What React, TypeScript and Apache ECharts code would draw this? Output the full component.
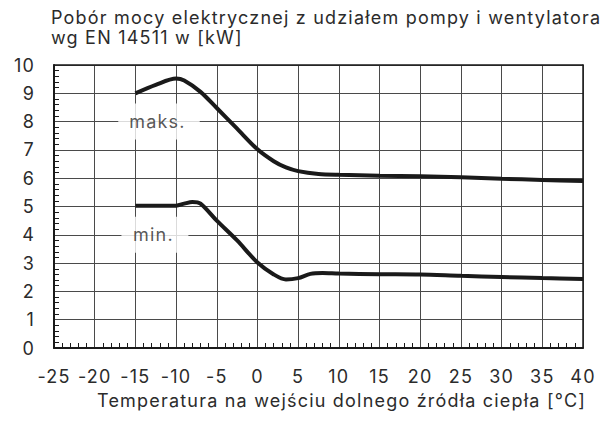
import React, { useEffect, useRef } from "react";
import * as echarts from "echarts";

const titleLines = [
  "Pobór mocy elektrycznej z udziałem pompy i wentylatora",
  "wg EN 14511 w [kW]",
];
const xAxisTitle = "Temperatura na wejściu dolnego źródła ciepła [°C]";

const xTicks = [-25, -20, -15, -10, -5, 0, 5, 10, 15, 20, 25, 30, 35, 40];
const yTicks = [0, 1, 2, 3, 4, 5, 6, 7, 8, 9, 10];

const maksTemps = [-15, -12.5, -10, -9, -7, -5, -2.5, 0, 2, 3.5, 5, 7.5, 10, 15, 20, 25, 30, 35, 40];
const maksValues = [9.0, 9.3, 9.52, 9.45, 9.05, 8.48, 7.75, 7.02, 6.6, 6.38, 6.25, 6.15, 6.12, 6.09, 6.07, 6.03, 5.98, 5.94, 5.9];

const minTemps = [-15, -10, -9, -8, -7, -5, -2.5, 0, 2, 3.5, 5, 6.5, 8, 10, 15, 20, 25, 30, 35, 40];
const minValues = [5.03, 5.03, 5.1, 5.16, 5.1, 4.5, 3.8, 3.02, 2.6, 2.42, 2.47, 2.62, 2.65, 2.63, 2.61, 2.6, 2.55, 2.51, 2.47, 2.44];

const curveLabels = ["maks.", "min."];
const labelPositions: [number, number][] = [
  [-12.1, 8],
  [-12.6, 4],
];

const FONT = "Inter";
const TEXT_COLOR = "#2b2b2b";
const LINE_COLOR = "#1a1a1a";
const GRID_COLOR = "#4a4a4a";

const GRID_LEFT = 54;
const GRID_RIGHT = 31;
const GRID_TOP = 65;
const GRID_BOTTOM = 75;
const CHART_W = 614;
const CHART_H = 423;
const PLOT_W = CHART_W - GRID_LEFT - GRID_RIGHT;
const PLOT_H = CHART_H - GRID_TOP - GRID_BOTTOM;

export default function App() {
  const ref = useRef<HTMLDivElement>(null);

  useEffect(() => {
    if (!ref.current) return;
    const chart = echarts.init(ref.current, undefined, { renderer: "svg" });

    const xMin = xTicks[0];
    const xMax = xTicks[xTicks.length - 1];
    const yMin = yTicks[0];
    const yMax = yTicks[yTicks.length - 1];

    const labelStyle = {
      fontFamily: FONT,
      fontSize: 18,
      color: TEXT_COLOR,
      margin: 19,
      showMinLabel: true,
      showMaxLabel: true,
    };

    const hiddenAxis = {
      type: "value",
      axisTick: { show: false },
      axisLabel: { show: false },
      splitLine: { show: false },
    };

    const titleStyle = {
      fontFamily: FONT,
      fontSize: 18,
      fontWeight: "normal",
      color: TEXT_COLOR,
    };

    chart.setOption({
      animation: false,
      title: [
        { text: titleLines[0], left: 51, top: 8, padding: 0, textStyle: titleStyle },
        { text: titleLines[1], left: 51, top: 28.5, padding: 0, textStyle: titleStyle },
      ],
      grid: { left: GRID_LEFT, right: GRID_RIGHT, top: GRID_TOP, bottom: GRID_BOTTOM },
      xAxis: [
        {
          type: "value",
          min: xMin,
          max: xMax,
          interval: 5,
          position: "bottom",
          name: xAxisTitle,
          nameLocation: "end",
          nameGap: 3,
          nameMoveOverlap: false,
          nameTextStyle: {
            fontFamily: FONT,
            fontSize: 18,
            color: TEXT_COLOR,
            align: "right",
            verticalAlign: "top",
            padding: [43, 0, 0, 0],
          },
          axisLine: { show: true, onZero: false, lineStyle: { color: LINE_COLOR, width: 2 } },
          axisTick: { show: false },
          axisLabel: labelStyle,
          splitLine: { show: true, lineStyle: { color: GRID_COLOR, width: 1 } },
          z: 1,
        },
        {
          ...hiddenAxis,
          min: xMin,
          max: xMax,
          interval: 5,
          position: "top",
          axisLine: { show: true, onZero: false, lineStyle: { color: LINE_COLOR, width: 1.5 } },
          z: 2,
        },
        {
          ...hiddenAxis,
          min: xMin,
          max: xMax,
          interval: 5,
          position: "bottom",
          offset: -5,
          axisLine: { show: false, onZero: false },
          minorTick: { show: true, splitNumber: 5, length: 4, lineStyle: { color: LINE_COLOR, width: 1 } },
          z: 2,
        },
        {
          // vertical grid lines drawn as full-height ticks from the bottom edge
          ...hiddenAxis,
          min: xMin,
          max: xMax,
          interval: 5,
          position: "top",
          offset: -PLOT_H,
          axisLine: { show: false, onZero: false },
          axisTick: { show: true, length: PLOT_H, lineStyle: { color: GRID_COLOR, width: 1 } },
          z: 0,
        },
      ],
      yAxis: [
        {
          type: "value",
          min: yMin,
          max: yMax,
          interval: 1,
          position: "left",
          axisLine: { show: true, onZero: false, lineStyle: { color: LINE_COLOR, width: 2 } },
          axisTick: { show: false },
          axisLabel: labelStyle,
          splitLine: { show: true, lineStyle: { color: GRID_COLOR, width: 1 } },
          z: 1,
        },
        {
          ...hiddenAxis,
          min: yMin,
          max: yMax,
          interval: 1,
          position: "right",
          axisLine: { show: true, onZero: false, lineStyle: { color: LINE_COLOR, width: 1.5 } },
          z: 2,
        },
        {
          ...hiddenAxis,
          min: yMin,
          max: yMax,
          interval: 1,
          position: "left",
          offset: -5,
          axisLine: { show: false, onZero: false },
          minorTick: { show: true, splitNumber: 5, length: 4, lineStyle: { color: LINE_COLOR, width: 1 } },
          z: 2,
        },
        {
          // horizontal grid lines drawn as full-width ticks from the left edge
          ...hiddenAxis,
          min: yMin,
          max: yMax,
          interval: 1,
          position: "right",
          offset: -PLOT_W,
          axisLine: { show: false, onZero: false },
          axisTick: { show: true, length: PLOT_W, lineStyle: { color: GRID_COLOR, width: 1 } },
          z: 0,
        },
      ],
      series: [
        {
          type: "line",
          name: "maks",
          data: maksTemps.map((t, i) => [t, maksValues[i]]),
          smooth: 0.3,
          symbol: "none",
          lineStyle: { color: LINE_COLOR, width: 4 },
          z: 3,
        },
        {
          type: "line",
          name: "min",
          data: minTemps.map((t, i) => [t, minValues[i]]),
          smooth: 0.3,
          symbol: "none",
          lineStyle: { color: LINE_COLOR, width: 4 },
          z: 4,
        },
        {
          type: "scatter",
          symbolSize: 0,
          z: 6,
          itemStyle: { color: "#ffffff" },
          data: labelPositions.map((p, i) => ({ value: p, name: curveLabels[i] })),
          label: {
            show: true,
            position: "inside",
            formatter: (p: any) => p.name,
            fontFamily: FONT,
            fontSize: 18,
            color: TEXT_COLOR,
            backgroundColor: "#ffffff",
            padding: [9, 17, 9, 14],
          },
        },
      ],
    });

    return () => chart.dispose();
  }, []);

  return (
    <div style={{ margin: -8 }}>
      <div ref={ref} style={{ width: CHART_W, height: CHART_H, letterSpacing: "1.2px" }} />
    </div>
  );
}
